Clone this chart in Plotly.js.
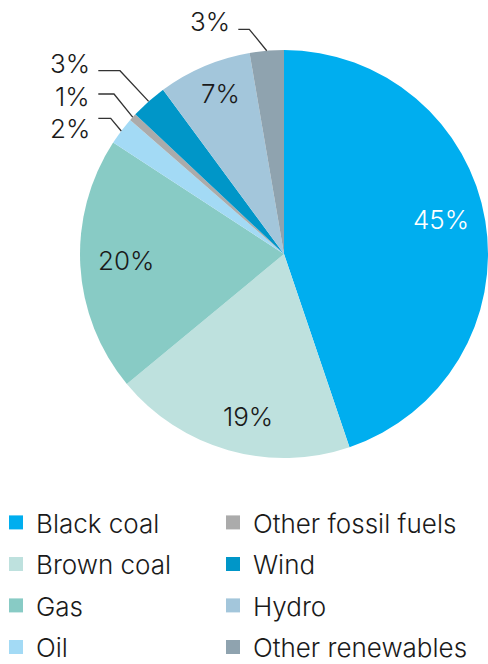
<!DOCTYPE html>
<html><head><meta charset="utf-8">
<script src="https://cdn.plot.ly/plotly-3.0.1.min.js"></script>
<style>html,body{margin:0;padding:0;background:#fff}#chart{width:488px;height:664px}</style>
</head><body><div id="chart"></div>
<script>
// ---- data ----
const categories = ['Black coal','Brown coal','Gas','Oil','Other fossil fuels','Wind','Hydro','Other renewables'];
const shares = [44.8, 19.2, 20.2, 2.2, 0.6, 2.9, 7.4, 2.7];
const percentLabels = shares.map(v => Math.round(v) + '%');

// ---- style ----
const colors = ['#00AEEF','#BEE1DE','#88CBC5','#A3DAF5','#ABABAB','#0096C8','#A3C6DB','#8FA3AF'];
const FONT = 'Inter, Liberation Sans, Arial, sans-serif';
const FW = 300;
const FS = 26;
const W = 488, H = 664;
const PIE = {cx: 284, cy: 254, r: 204};
// inside labels: slice index -> radius fraction, angle nudge (deg), colour
const insideLbl = {0:{rf:0.786,da:-3.2,c:'#ffffff'},1:{rf:0.817,da:-3.3,c:'#1a1a1a'},2:{rf:0.773,da:0.9,c:'#1a1a1a'},6:{rf:0.847,da:1.4,c:'#1a1a1a'}};
// outside labels: text right edge / centre y, leader start x, leader y, elbow x
const outsideLbl = {3:{tx:92,ty:128,lx:98.3,ly:118.3,ex:110.7},4:{tx:92,ty:96,lx:98.3,ly:94,ex:114},5:{tx:92,ty:63.5,lx:98.3,ly:70.7,ex:120},7:{tx:232,ty:21.7,lx:238.3,ly:29.3,ex:249.3}};

const total = shares.reduce((a,b)=>a+b,0);
let cum = 0;
const midAngles = shares.map(v => { const m = (cum + v/2)/total*360; cum += v; return m; });
function pt(angDeg, rad){ const a = angDeg*Math.PI/180; return [PIE.cx + rad*Math.sin(a), PIE.cy - rad*Math.cos(a)]; }

const annotations = [], shapes = [];
categories.forEach((c,i) => {
  if (insideLbl[i]) {
    const L = insideLbl[i];
    const p = pt(midAngles[i] + L.da, PIE.r*L.rf);
    annotations.push({x:p[0], y:p[1], xref:'x', yref:'y', text:percentLabels[i], showarrow:false,
      xanchor:'center', yanchor:'middle', font:{family:FONT, size:FS, weight:FW, color:L.c}});
  } else if (outsideLbl[i]) {
    const L = outsideLbl[i];
    const p = pt(midAngles[i], PIE.r);
    annotations.push({x:L.tx, y:L.ty, xref:'x', yref:'y', text:percentLabels[i], showarrow:false,
      xanchor:'right', yanchor:'middle', font:{family:FONT, size:FS, weight:FW, color:'#1a1a1a'}});
    shapes.push({type:'path', xref:'x', yref:'y', path:`M${L.lx},${L.ly} L${L.ex},${L.ly} L${p[0]},${p[1]}`,
      line:{color:'#333333', width:1.3}});
  }
});

const traces = [{
  type:'pie', labels:categories, values:shares, sort:false, direction:'clockwise', rotation:0,
  marker:{colors:colors, line:{width:0}}, textinfo:'none', showlegend:false, hoverinfo:'skip',
  domain:{x:[(PIE.cx-PIE.r)/W, Math.min(1,(PIE.cx+PIE.r)/W)], y:[1-(PIE.cy+PIE.r)/H, 1-(PIE.cy-PIE.r)/H]}
}];
const layout = {
  width:W, height:H, margin:{l:0,r:0,t:0,b:0,autoexpand:false}, paper_bgcolor:'#fff', plot_bgcolor:'rgba(0,0,0,0)',
  font:{family:FONT, size:FS, weight:FW, color:'#1a1a1a'},
  xaxis:{range:[0,W], visible:false, fixedrange:true},
  yaxis:{range:[H,0], visible:false, fixedrange:true},
  annotations:annotations, shapes:shapes
};
const rowY0 = 522.5, rowStep = 41.5;
categories.forEach((c,i) => {
  const key = i===0 ? 'legend' : 'legend'+(i+1);
  traces.push({type:'scatter', mode:'markers', x:[null], y:[null], name:c, legend:key, showlegend:true,
    marker:{symbol:'square', size:14, color:colors[i], line:{width:0}}, hoverinfo:'skip'});
  const col = i<4 ? 0 : 1, row = i%4;
  layout[key] = {x: col===0 ? 0 : 217/W, y: 1-(rowY0+row*rowStep)/H, xanchor:'left', yanchor:'middle',
    indentation:-4, bgcolor:'rgba(0,0,0,0)', borderwidth:0, font:{family:FONT, size:FS, weight:FW, color:'#1a1a1a'}};
});
Plotly.newPlot('chart', traces, layout, {staticPlot:true, displayModeBar:false});
</script></body></html>
